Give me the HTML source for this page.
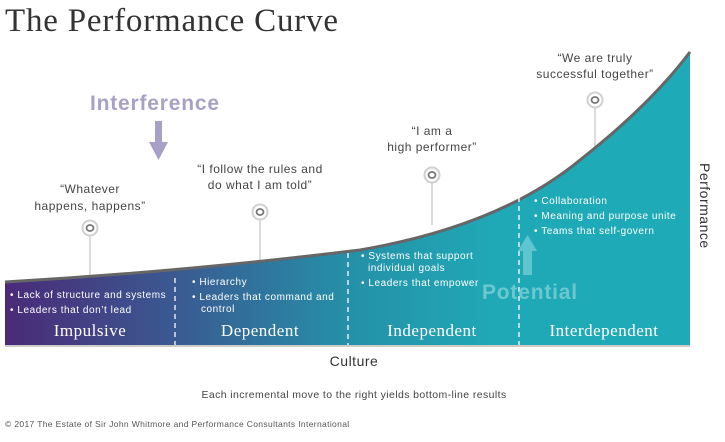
<!DOCTYPE html>
<html><head><style>
html,body{margin:0;padding:0;background:#fff;width:725px;height:442px;overflow:hidden}
.s{font-family:"Liberation Sans",sans-serif}
.r{font-family:"Liberation Serif",serif}
</style></head><body>
<svg width="725" height="442" viewBox="0 0 725 442" xmlns="http://www.w3.org/2000/svg">
<defs>
<linearGradient id="g" x1="0" x2="1" y1="0" y2="0">
<stop offset="0" stop-color="#4a2a78"/>
<stop offset="0.25" stop-color="#3a5a92"/>
<stop offset="0.5" stop-color="#2590a8"/>
<stop offset="0.72" stop-color="#1fa9b6"/>
<stop offset="1" stop-color="#1eaab6"/>
</linearGradient>
</defs>
<text class="r" x="5" y="31" font-size="33" fill="#333" letter-spacing="0.8">The Performance Curve</text>
<text class="s" x="90" y="110" font-size="21" font-weight="bold" fill="#a9a0c8" letter-spacing="0.8">Interference</text>
<rect x="155" y="121" width="7" height="22" fill="#a9a0c8"/>
<polygon points="149,142 168,142 158.5,160" fill="#a9a0c8"/>
<g stroke="#d0d0d0" stroke-width="1.5">
<line x1="90" y1="236" x2="90" y2="278"/>
<line x1="260" y1="220" x2="260" y2="268"/>
<line x1="432" y1="183" x2="432" y2="225"/>
<line x1="595" y1="108" x2="595" y2="150"/>
</g>
<path d="M5,282 Q180,272 360,250 Q500,226 580,160 Q650,105 690,52 L690,345 L5,345 Z" fill="url(#g)"/>
<path d="M5,282 Q180,272 360,250 Q500,226 580,160 Q650,105 690,52" fill="none" stroke="#666" stroke-width="3"/>
<line x1="5" y1="346" x2="690" y2="346" stroke="#ccc" stroke-width="2"/>
<g stroke="#fff" stroke-width="1.5" stroke-dasharray="5,4" opacity="0.85">
<line x1="175" y1="278" x2="175" y2="345"/>
<line x1="348" y1="253" x2="348" y2="345"/>
<line x1="519" y1="197" x2="519" y2="345"/>
</g>
<g fill="#fff" stroke="#d0d0d0" stroke-width="2">
<circle cx="90" cy="228" r="7.5"/><circle cx="260" cy="212" r="7.5"/><circle cx="432" cy="175" r="7.5"/><circle cx="595" cy="100" r="7.5"/>
</g>
<g fill="none" stroke="#777" stroke-width="1.8">
<ellipse cx="90" cy="228" rx="3.5" ry="3"/><ellipse cx="260" cy="212" rx="3.5" ry="3"/><ellipse cx="432" cy="175" rx="3.5" ry="3"/><ellipse cx="595" cy="100" rx="3.5" ry="3"/>
</g>
<g class="s" font-size="12" fill="#444" text-anchor="middle" letter-spacing="0.5">
<text x="90" y="193">“Whatever</text><text x="90" y="210">happens, happens”</text>
<text x="260" y="173">“I follow the rules and</text><text x="260" y="189">do what I am told”</text>
<text x="432" y="135">“I am a</text><text x="432" y="151">high performer”</text>
<text x="595" y="62">“We are truly</text><text x="595" y="78">successful together”</text>
</g>
<rect x="523" y="250" width="9" height="25" fill="#5fc6cf"/>
<polygon points="518,251 537,251 527.5,235" fill="#5fc6cf"/>
<text class="s" x="482" y="299" font-size="21" font-weight="bold" fill="#6cc8d0" letter-spacing="0.8">Potential</text>
<g class="s" font-size="10" fill="#fff" letter-spacing="0.55">
<text x="10" y="298">• Lack of structure and systems</text>
<text x="10" y="313">• Leaders that don’t lead</text>
<text x="192" y="285">• Hierarchy</text>
<text x="192" y="300">• Leaders that command and</text>
<text x="201" y="312">control</text>
<text x="361" y="259">• Systems that support</text>
<text x="368" y="271">individual goals</text>
<text x="361" y="286">• Leaders that empower</text>
<text x="534" y="204">• Collaboration</text>
<text x="534" y="219">• Meaning and purpose unite</text>
<text x="534" y="234">• Teams that self-govern</text>
</g>
<g class="r" font-size="17" fill="#fff" text-anchor="middle" letter-spacing="0.5">
<text x="90" y="336">Impulsive</text>
<text x="260" y="336">Dependent</text>
<text x="432" y="336">Independent</text>
<text x="604" y="336">Interdependent</text>
</g>
<text class="s" x="700" y="163" font-size="14" fill="#333" letter-spacing="0.5" transform="rotate(90 700 163)">Performance</text>
<text class="s" x="354" y="366" font-size="14" fill="#333" text-anchor="middle" letter-spacing="0.5">Culture</text>
<text class="s" x="354" y="398" font-size="10.5" fill="#444" text-anchor="middle" letter-spacing="0.4">Each incremental move to the right yields bottom-line results</text>
<text class="s" x="5" y="427" font-size="8.5" fill="#555" letter-spacing="0.35">© 2017 The Estate of Sir John Whitmore and Performance Consultants International</text>
</svg>
</body></html>
